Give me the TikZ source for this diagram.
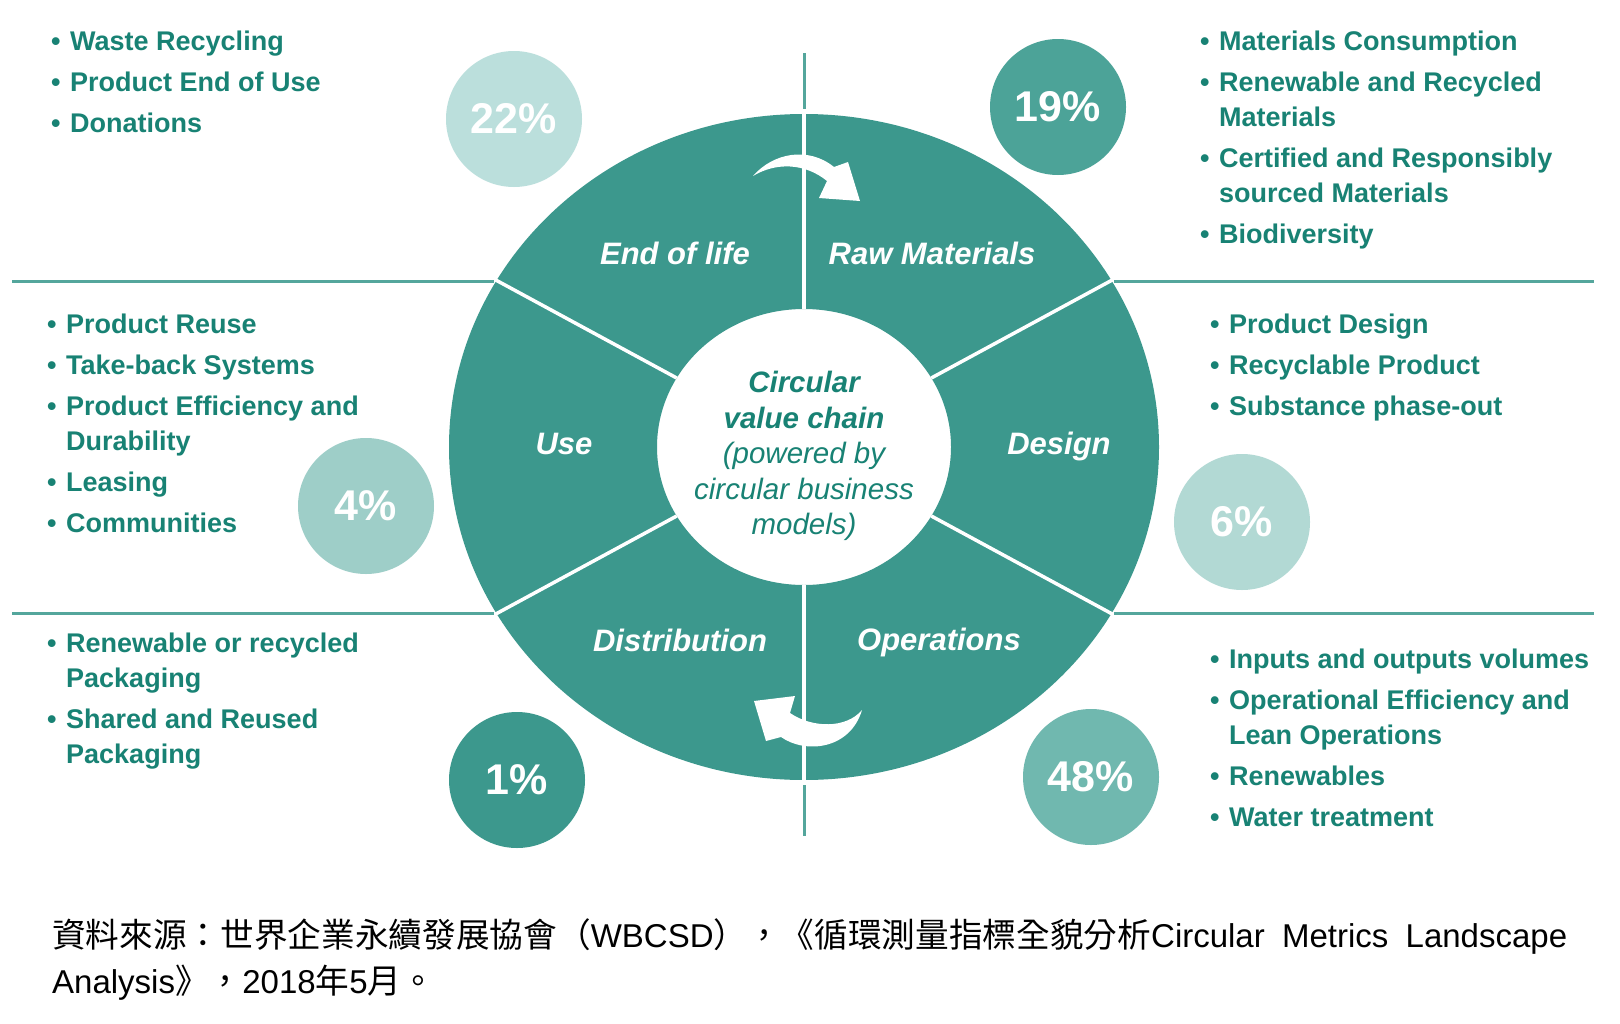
\documentclass[tikz,border=0pt]{standalone}
\usepackage{fontspec}
\setmainfont{Liberation Sans}
\newfontfamily\cjk{Noto Sans CJK TC}[Scale=1.02]
\definecolor{ringteal}{RGB}{60,152,141}
\definecolor{lineteal}{RGB}{84,166,156}
\definecolor{txtteal}{RGB}{24,130,116}
\definecolor{bubEol}{RGB}{187,223,220}
\definecolor{bubRaw}{RGB}{76,163,152}
\definecolor{bubUse}{RGB}{158,206,200}
\definecolor{bubDes}{RGB}{178,217,212}
\definecolor{bubDis}{RGB}{60,152,141}
\definecolor{bubOps}{RGB}{112,184,175}
\newcommand{\bul}{\makebox[19pt][l]{\textbullet}}
\newcommand{\cnt}{\hspace*{19pt}}

\begin{document}
\begin{tikzpicture}[x=1pt,y=-1pt]

\tikzset{bubble/.style = {shape=circle,minimum size=136pt,inner sep=0pt,text=white,font=\fontsize{43}{43}\selectfont\bfseries}}
\tikzset{seglabel/.style = {text=white,inner sep=0pt,font=\fontsize{31}{31}\selectfont\bfseries\itshape}}
\tikzset{listtxt/.style = {anchor=north west,inner sep=0pt,align=left,text=txtteal,font=\fontsize{27}{35}\selectfont\bfseries}}
\tikzset{divider/.style = {lineteal,line width=3pt}}
\tikzset{spoke/.style = {white,line width=3.5pt}}
\tikzset{source/.style = {anchor=base west,inner sep=0pt,font=\fontsize{33}{33}\selectfont}}

\fill[white] (0,0) rectangle (1620,1023);
\useasboundingbox (0,0) rectangle (1620,1023);

% ring
\coordinate (ctr) at (804,447);
\fill[ringteal,even odd rule] (ctr) ellipse [x radius=355pt,y radius=333pt]
  (ctr) ellipse [x radius=147pt,y radius=138pt];
% spokes
\draw[spoke] (ctr) ++(30:147pt and 138pt) -- ++(30:210pt and 197pt);
\draw[spoke] (ctr) ++(90:147pt and 138pt) -- ++(90:210pt and 197pt);
\draw[spoke] (ctr) ++(150:147pt and 138pt) -- ++(150:210pt and 197pt);
\draw[spoke] (ctr) ++(210:147pt and 138pt) -- ++(210:210pt and 197pt);
\draw[spoke] (ctr) ++(270:147pt and 138pt) -- ++(270:210pt and 197pt);
\draw[spoke] (ctr) ++(330:147pt and 138pt) -- ++(330:210pt and 197pt);

% dividers
\coordinate (vt1) at (804,53);   \coordinate (vt2) at (804,109);
\coordinate (vb1) at (804,785);  \coordinate (vb2) at (804,836);
\coordinate (hl1) at (12,281);   \coordinate (hl2) at (494,281);
\coordinate (hr1) at (1114,281); \coordinate (hr2) at (1594,281);
\coordinate (ll1) at (12,613);   \coordinate (ll2) at (494,613);
\coordinate (lr1) at (1114,613); \coordinate (lr2) at (1594,613);
\draw[divider] (vt1) -- (vt2);
\draw[divider] (vb1) -- (vb2);
\draw[divider] (hl1) -- (hl2);
\draw[divider] (hr1) -- (hr2);
\draw[divider] (ll1) -- (ll2);
\draw[divider] (lr1) -- (lr2);

% turning arrows
\fill[white] (753,176) .. controls (773,153) and (808,146) .. (834,167)
  -- (848,162) -- (860,201) -- (819,198) -- (827,181)
  .. controls (805,163) and (776,162) .. (753,176) -- cycle;
\fill[white] (862,710) .. controls (850,750) and (805,754) .. (781,737)
  -- (766,741) -- (754,701) -- (795,696) -- (790,713)
  .. controls (812,728) and (846,729) .. (862,710) -- cycle;

% segment labels
\node[seglabel] (eol) at (675,253) {End of life};
\node[seglabel] (raw) at (932,253) {Raw Materials};
\node[seglabel] (use) at (564,444) {Use};
\node[seglabel] (des) at (1059,446) {Design};
\node[seglabel] (dis) at (680,640) {Distribution};
\node[seglabel] (ops) at (939,642) {Operations};
\node[align=center,text=txtteal,inner sep=0pt,font=\fontsize{29.5}{35.5}\selectfont\itshape] (hub) at (804,456)
  {\textbf{Circular}\\ \textbf{value chain}\\ (powered by\\ circular business\\ models)};

% bubbles
\node[bubble,fill=bubEol] (pEol) at (514,119) {22\%};
\node[bubble,fill=bubRaw] (pRaw) at (1058,107) {19\%};
\node[bubble,fill=bubUse] (pUse) at (366,506) {4\%};
\node[bubble,fill=bubDes] (pDes) at (1242,522) {6\%};
\node[bubble,fill=bubDis] (pDis) at (517,780) {1\%};
\node[bubble,fill=bubOps] (pOps) at (1091,777) {48\%};

% lists
\node[listtxt] (lEol) at (51,31) {\bul Waste Recycling\\[6pt] \bul Product End of Use\\[6pt] \bul Donations};
\node[listtxt] (lRaw) at (1200,31) {\bul Materials Consumption\\[6pt] \bul Renewable and Recycled\\ \cnt Materials\\[6pt]
  \bul Certified and Responsibly\\ \cnt sourced Materials\\[6pt] \bul Biodiversity};
\node[listtxt] (lUse) at (47,314) {\bul Product Reuse\\[6pt] \bul Take-back Systems\\[6pt] \bul Product Efficiency and\\ \cnt Durability\\[6pt]
  \bul Leasing\\[6pt] \bul Communities};
\node[listtxt] (lDes) at (1210,314) {\bul Product Design\\[6pt] \bul Recyclable Product\\[6pt] \bul Substance phase-out};
\node[listtxt] (lDis) at (47,633) {\bul Renewable or recycled\\ \cnt Packaging\\[6pt] \bul Shared and Reused\\ \cnt Packaging};
\node[listtxt] (lOps) at (1210,649) {\bul Inputs and outputs volumes\\[6pt] \bul Operational Efficiency and\\ \cnt Lean Operations\\[6pt]
  \bul Renewables\\[6pt] \bul Water treatment};

% source
\node[source] (src1) at (52,947) {\makebox[1515pt][s]{{\cjk 資料來源：世界企業永續發展協會（}WBCSD{\cjk ），《循環測量指標全貌分析}Circular Metrics Landscape}};
\node[source] (src2) at (52,993) {Analysis{\cjk 》，}2018{\cjk 年}5{\cjk 月。}};

\end{tikzpicture}
\end{document}
